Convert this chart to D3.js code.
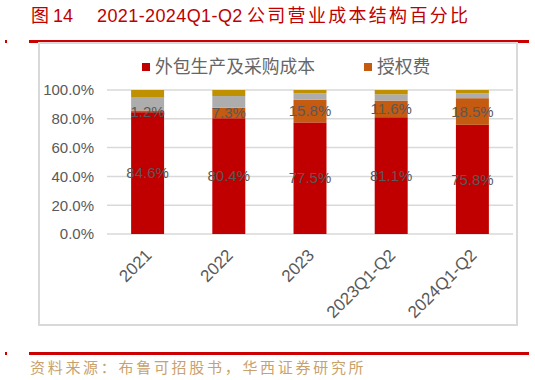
<!DOCTYPE html>
<html><head><meta charset="utf-8">
<script src="https://cdn.jsdelivr.net/npm/d3@7"></script>
<style>
html,body{margin:0;padding:0;background:#fff;}
svg{display:block;}
</style></head>
<body>
<svg id="c" width="535" height="380"></svg>
<script>
const categories = ["2021","2022","2023","2023Q1-Q2","2024Q1-Q2"];
const seriesNames = ["外包生产及采购成本","授权费","其他1","其他2"];
const outsourcing = [0.846,0.804,0.775,0.811,0.758];
const license = [0.012,0.073,0.158,0.116,0.185];
const other1 = [0.089,0.081,0.044,0.043,0.034];
const other2 = [0.053,0.042,0.023,0.030,0.023];
const yTicks = [0,0.2,0.4,0.6,0.8,1.0];
const colors = ["#C00000","#C55A11","#ADADAD","#BF9000"];

const svg = d3.select("#c");
const font = "'Liberation Sans', Arial, sans-serif";
const cjk = "'Noto Sans CJK SC', sans-serif";

// title
const t = svg.append("text").attr("x",31).attr("y",22).attr("fill","#C00000")
  .style("font-family",cjk).style("font-size","18px");
t.append("tspan").text("图");
t.append("tspan").attr("x",53).style("font-family",font).text("14");
t.append("tspan").attr("x",97).style("font-family",font).style("letter-spacing","0.4px").text("2021-2024Q1-Q2");
t.append("tspan").attr("x",247).style("letter-spacing","2.3px").text("公司营业成本结构百分比");

// red rules
svg.append("rect").attr("x",29).attr("y",40).attr("width",500).attr("height",3).attr("fill","#CC0000");
svg.append("rect").attr("x",5).attr("y",40).attr("width",2).attr("height",3).attr("fill","#CC0000");
svg.append("rect").attr("x",29).attr("y",352).attr("width",500).attr("height",3).attr("fill","#CC0000");
svg.append("rect").attr("x",5).attr("y",352).attr("width",2).attr("height",3).attr("fill","#CC0000");

// chart box
svg.append("rect").attr("x",39).attr("y",43).attr("width",478).attr("height",282)
  .attr("fill","none").attr("stroke","#D9D9D9").attr("stroke-width",2);

// source
svg.append("text").attr("x",30).attr("y",373).attr("fill","#C9A26B")
  .style("font-family",cjk).style("font-size","15px").style("letter-spacing","2.7px")
  .text("资料来源：布鲁可招股书，华西证券研究所");

// scales
const x = d3.scaleBand().domain(categories).range([107,513]).paddingInner(0.594).paddingOuter(0.297);
const y = d3.scaleLinear().domain([0,1]).range([234,90]);

// grid
svg.append("g").selectAll("line").data(yTicks).join("line")
  .attr("x1",107).attr("x2",513).attr("y1",d=>y(d)).attr("y2",d=>y(d))
  .attr("stroke","#D9D9D9").attr("stroke-width",1.5);

// y axis
const yAxis = d3.axisLeft(y).tickValues(yTicks).tickFormat(d3.format(".1%")).tickSize(0).tickPadding(0);
const gy = svg.append("g").attr("transform","translate(94,0)").call(yAxis);
gy.select(".domain").remove();
gy.selectAll("text").attr("fill","#595959").style("font-family",font).style("font-size","15px");

// x axis
const xAxis = d3.axisBottom(x).tickSize(0).tickPadding(0);
const gx = svg.append("g").attr("transform","translate(0,234)").call(xAxis);
gx.select(".domain").remove();
gx.selectAll("text").attr("fill","#595959").style("font-family",font).style("font-size","17px")
  .attr("text-anchor","end").attr("dy","0.35em")
  .attr("transform","translate(1,18) rotate(-45)").attr("y",0);

// stack
const rows = categories.map((c,i)=>({cat:c, s0:outsourcing[i], s1:license[i], s2:other1[i], s3:other2[i]}));
const stack = d3.stack().keys(["s0","s1","s2","s3"]);
const layers = stack(rows);
svg.append("g").selectAll("g").data(layers).join("g").attr("fill",(d,i)=>colors[i])
  .selectAll("rect").data(d=>d).join("rect")
  .attr("x",d=>x(d.data.cat)).attr("width",x.bandwidth())
  .attr("y",d=>y(d[1])).attr("height",d=>y(d[0])-y(d[1]));

// labels for first two series
const lab = svg.append("g").style("font-family",font).style("font-size","15px").attr("fill","#595959").attr("text-anchor","middle");
[0,1].forEach(k=>{
  lab.selectAll(null).data(layers[k]).join("text")
    .attr("x",d=>x(d.data.cat)+x.bandwidth()/2)
    .attr("y",d=>y((d[0]+d[1])/2)).attr("dy","0.35em")
    .text(d=>d3.format(".1%")(d[1]-d[0]));
});

// legend
const leg = svg.append("g");
const legItems = [{n:seriesNames[0],c:colors[0],x:142},{n:seriesNames[1],c:colors[1],x:364}];
legItems.forEach(it=>{
  leg.append("rect").attr("x",it.x).attr("y",63).attr("width",8).attr("height",8).attr("fill",it.c);
  leg.append("text").attr("x",it.x+13).attr("y",67).attr("dy","0.36em").attr("fill","#666666")
    .style("font-family",cjk).style("font-size","17.8px").text(it.n);
});
</script>
</body></html>
